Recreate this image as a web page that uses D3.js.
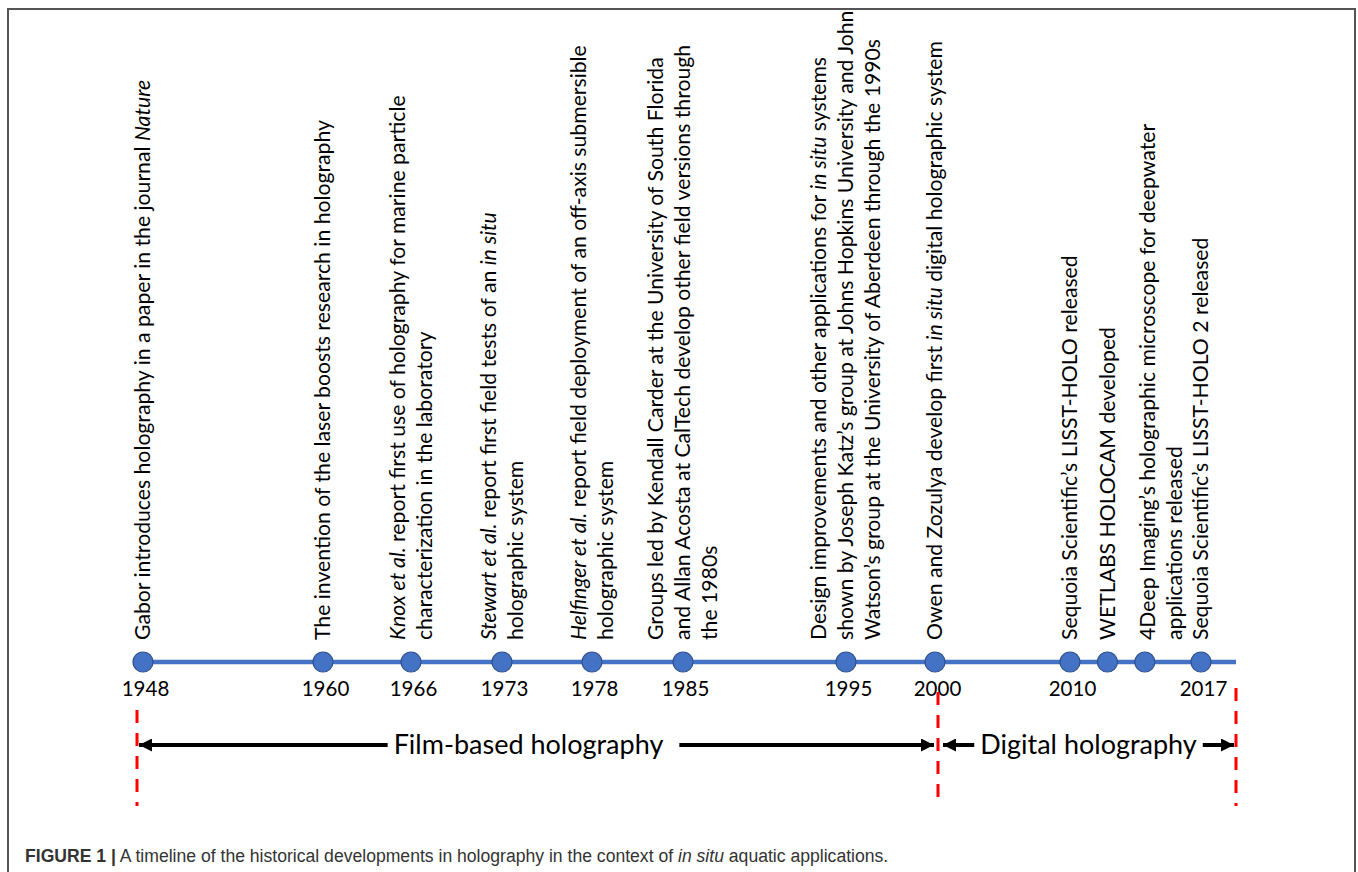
<!doctype html>
<html>
<head>
<meta charset="utf-8">
<style>
  body { margin:0; background:#fff; }
  svg { display:block; }
  .event text { font-family: Lato, "Open Sans", sans-serif; font-size:21.2px; fill:#000; }
  .years text { font-family: Lato, "Open Sans", sans-serif; font-size:20.5px; fill:#000; }
  .period text { font-family: Lato, "Open Sans", sans-serif; font-size:27px; fill:#000; }
  .caption { font-family: "Liberation Sans", Arial, sans-serif; font-size:19px; fill:#333; }
</style>
<script src="https://cdnjs.cloudflare.com/ajax/libs/d3/7.8.5/d3.min.js"></script>
</head>
<body>
<script>

// timeline events (year, label lines; *...* = italic)
var eventYears = [1948, 1960, 1966, 1973, 1978, 1985, 1995, 2000, 2010, 2012, 2014, 2017];
var eventText = [
  ["Gabor introduces holography in a paper in the journal *Nature*"],
  ["The invention of the laser boosts research in holography"],
  ["*Knox et al.* report first use of holography for marine particle",
   "characterization in the laboratory"],
  ["*Stewart et al.* report first field tests of an *in situ*",
   "holographic system"],
  ["*Helfinger et al.* report field deployment of an off-axis submersible",
   "holographic system"],
  ["Groups led by Kendall Carder at the University of South Florida",
   "and Allan Acosta at CalTech develop other field versions through",
   "the 1980s"],
  ["Design improvements and other applications for *in situ* systems",
   "shown by Joseph Katz\u2019s group  at Johns Hopkins University and John",
   "Watson\u2019s group at the University of Aberdeen through the 1990s"],
  ["Owen and Zozulya develop first *in situ* digital holographic system"],
  ["Sequoia Scientific\u2019s LISST-HOLO  released"],
  ["WETLABS HOLOCAM developed"],
  ["4Deep Imaging\u2019s holographic microscope for deepwater",
   "applications released"],
  ["Sequoia Scientific\u2019s LISST-HOLO 2 released"]
];

// years printed under the line
var tickYears = [1948, 1960, 1966, 1973, 1978, 1985, 1995, 2000, 2010, 2017];
var timelineEnd = 2019;

// eras
var periodNames = ["Film-based holography", "Digital holography"];
var periodFrom = [1948, 2000];
var periodTo = [2000, 2019];

var captionBold = "FIGURE 1 |";
var captionText = [" A timeline of the historical developments in holography in the context of ", "*in situ*", " aquatic applications."];

// Globals
var width = 1358, height = 872;
var lineY = 662;
var lineGap = 27;
var labelBottom = 640;
var labelNudge = {10: 16};   // 4Deep block sits right of its dot

// schematic (non-uniform) time axis
var x = d3.scaleLinear()
   .domain(tickYears.concat([timelineEnd]))
   .range([143, 323, 411, 502, 592, 683, 846, 935, 1070, 1201, 1236]);

var svg = d3.select("body").append("svg")
   .attr("width", width)
   .attr("height", height);

// frame
svg.append("rect")
   .attr("x", 8).attr("y", 9)
   .attr("width", 1347).attr("height", 900)
   .attr("fill", "none")
   .attr("stroke", "#555")
   .attr("stroke-width", 2);

// helper: write "*italic*" markup into tspans
function richText(sel, str) {
   str.split(/(\*[^*]+\*)/).filter(function(s) { return s.length; }).forEach(function(s) {
      var it = s[0] == "*";
      sel.append("tspan")
         .attr("font-style", it ? "italic" : null)
         .text(it ? s.slice(1, -1) : s);
   });
}

// main line
svg.append("line")
   .attr("x1", x(1948) - 6)
   .attr("x2", x(timelineEnd))
   .attr("y1", lineY).attr("y2", lineY)
   .attr("stroke", "#4472C4")
   .attr("stroke-width", 4.5);

// vertical labels
var ev = svg.append("g").attr("class", "event");
eventYears.forEach(function(yr, i) {
   var lines = eventText[i];
   var cx = x(yr) + (labelNudge[i] || 0);
   lines.forEach(function(ln, j) {
      var px = cx + (j - (lines.length - 1) / 2) * lineGap;
      var t = ev.append("text")
         .attr("transform", "translate(" + px + "," + labelBottom + ") rotate(-90)")
         .attr("dy", "0.35em");
      richText(t, ln);
   });
});

// dots
svg.append("g").selectAll("circle")
   .data(eventYears)
   .enter()
   .append("circle")
   .attr("cx", function(d) { return x(d); })
   .attr("cy", lineY)
   .attr("r", 10)
   .attr("fill", "#4472C4")
   .attr("stroke", "#2F528F")
   .attr("stroke-width", 1.2);

// year labels
var axis = d3.axisBottom(x)
   .tickValues(tickYears)
   .tickFormat(d3.format("d"))
   .tickSize(0)
   .tickPadding(19);
var yg = svg.append("g")
   .attr("class", "years")
   .attr("transform", "translate(2," + lineY + ")")
   .call(axis);
yg.select(".domain").remove();
yg.attr("font-size", null).attr("font-family", null);

// era boundaries (red dashed)
var bounds = [periodFrom[0], periodFrom[1], periodTo[1]];
var boundTop = [710, 692, 688];
svg.append("g").selectAll("line")
   .data(bounds)
   .enter()
   .append("line")
   .attr("x1", function(d, i) { return x(d) - (i == 0 ? 6 : 0) + (i == 1 ? 3 : 0); })
   .attr("x2", function(d, i) { return x(d) - (i == 0 ? 6 : 0) + (i == 1 ? 3 : 0); })
   .attr("y1", function(d, i) { return boundTop[i]; })
   .attr("y2", 806)
   .attr("stroke", "#FF0000")
   .attr("stroke-width", 3)
   .attr("stroke-dasharray", "13,10");

// arrowheads
var defs = svg.append("defs");
defs.append("marker")
   .attr("id", "head")
   .attr("viewBox", "0 0 10 10")
   .attr("refX", 10).attr("refY", 5)
   .attr("markerWidth", 15).attr("markerHeight", 13)
   .attr("markerUnits", "userSpaceOnUse")
   .attr("orient", "auto")
   .append("path")
   .attr("d", "M0,0L10,5L0,10Z")
   .attr("fill", "#000");

// era labels + arrows
var arrowY = 745;
var textShift = [-8, 0];
var pg = svg.append("g").attr("class", "period");
periodNames.forEach(function(name, i) {
   var x0 = x(periodFrom[i]) + (i == 0 ? -4 : 8);
   var x1 = x(periodTo[i]) + (i == 0 ? -1 : -2);
   var mid = (x0 + x1) / 2 + textShift[i];
   var t = pg.append("text")
      .attr("x", mid)
      .attr("y", arrowY)
      .attr("dy", "0.35em")
      .attr("text-anchor", "middle")
      .text(name);
   var w = t.node().getComputedTextLength();
   var tl = mid - w / 2, tr = mid + w / 2;
   pg.append("line")
      .attr("x1", tl - 6).attr("x2", x0)
      .attr("y1", arrowY).attr("y2", arrowY)
      .attr("stroke", "#000").attr("stroke-width", 4)
      .attr("marker-end", "url(#head)");
   pg.append("line")
      .attr("x1", tr + (i == 0 ? 16 : 6)).attr("x2", x1)
      .attr("y1", arrowY).attr("y2", arrowY)
      .attr("stroke", "#000").attr("stroke-width", 4)
      .attr("marker-end", "url(#head)");
});

// caption: condensed look by squeezing the group horizontally to the original width
var capG = svg.append("g");
var cap = capG.append("text")
   .attr("class", "caption")
   .attr("x", 0)
   .attr("y", 0);
cap.append("tspan").attr("font-weight", "bold").text(captionBold);
captionText.forEach(function(s) { richText(cap, s); });
var capW = cap.node().getComputedTextLength();
capG.attr("transform", "translate(25,862) scale(" + (864 / capW) + ",1)");

</script>
</body>
</html>
